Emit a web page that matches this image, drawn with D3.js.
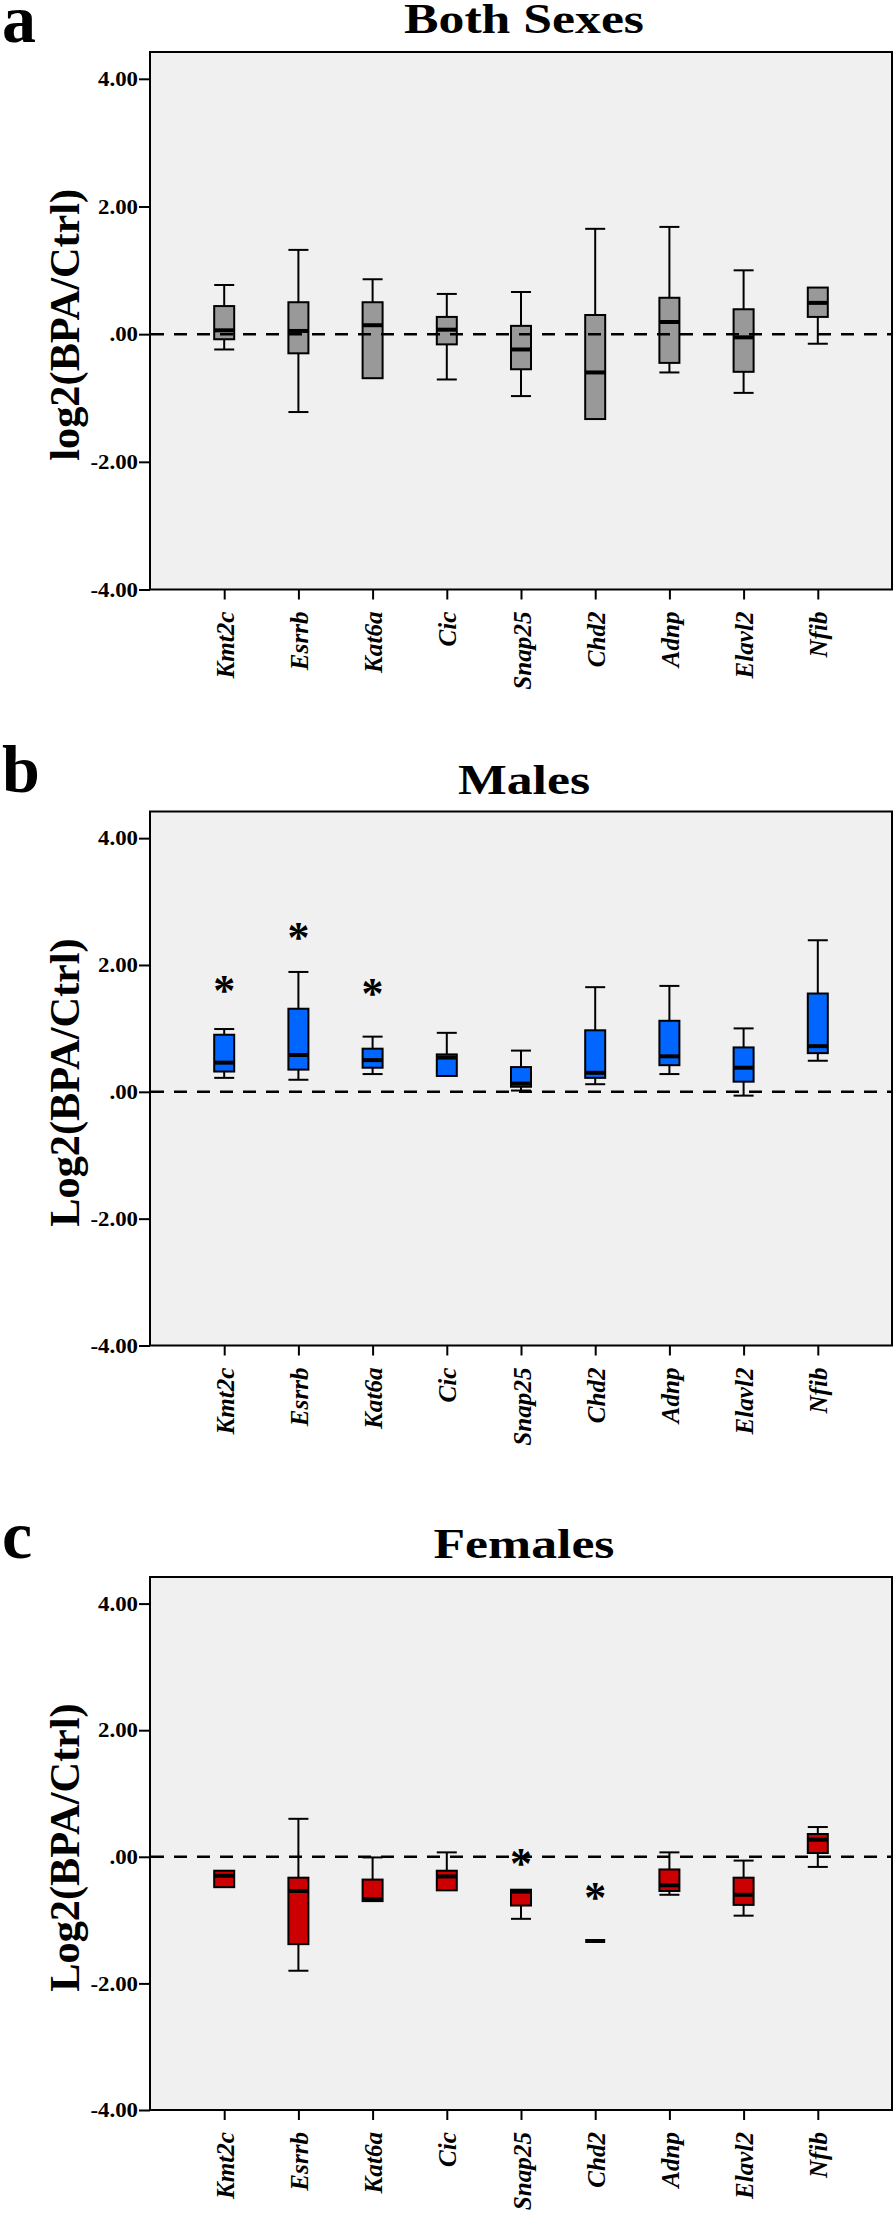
<!DOCTYPE html>
<html><head><meta charset="utf-8">
<script src="https://cdn.jsdelivr.net/npm/d3@7"></script>
<style>body{margin:0;background:#fff}</style>
</head><body><svg id="c" width="896" height="2220"></svg>
<script>
const genes = ["Kmt2c","Esrrb","Kat6a","Cic","Snap25","Chd2","Adnp","Elavl2","Nfib"];
const tickValues = [4, 2, 0, -2, -4];
const tickLabels = ["4.00", "2.00", ".00", "-2.00", "-4.00"];

// Both sexes
const bothMax = [0.77, 1.32, 0.86, 0.63, 0.66, 1.65, 1.68, 1.00, 0.73];
const bothQ3  = [0.44, 0.50, 0.50, 0.27, 0.13, 0.30, 0.57, 0.39, 0.73];
const bothMed = [0.06, 0.05, 0.14, 0.07, -0.24, -0.60, 0.19, -0.05, 0.49];
const bothQ1  = [-0.08, -0.30, -0.69, -0.16, -0.55, -1.33, -0.45, -0.59, 0.27];
const bothMin = [-0.24, -1.22, -0.69, -0.71, -0.97, -1.33, -0.60, -0.92, -0.15];

// Males
const maleMax = [0.99, 1.89, 0.87, 0.93, 0.65, 1.65, 1.67, 1.00, 2.39];
const maleQ3  = [0.90, 1.31, 0.68, 0.59, 0.39, 0.97, 1.12, 0.70, 1.55];
const maleMed = [0.46, 0.58, 0.50, 0.54, 0.13, 0.30, 0.56, 0.38, 0.72];
const maleQ1  = [0.32, 0.35, 0.38, 0.25, 0.08, 0.22, 0.42, 0.16, 0.61];
const maleMin = [0.22, 0.19, 0.28, 0.25, 0.02, 0.12, 0.28, -0.06, 0.49];
const maleStarGenes = ["Kmt2c", "Esrrb", "Kat6a"];
const maleStarValues = [1.69, 2.53, 1.64];

// Females
const femaleMax = [-0.22, 0.60, -0.01, 0.07, -0.52, -1.33, 0.07, -0.06, 0.47];
const femaleQ3  = [-0.22, -0.33, -0.36, -0.22, -0.52, -1.33, -0.20, -0.33, 0.36];
const femaleMed = [-0.30, -0.54, -0.67, -0.31, -0.55, -1.33, -0.45, -0.60, 0.27];
const femaleQ1  = [-0.48, -1.38, -0.70, -0.53, -0.77, -1.33, -0.54, -0.76, 0.06];
const femaleMin = [-0.48, -1.80, -0.70, -0.53, -0.98, -1.33, -0.60, -0.93, -0.16];
const femaleStarGenes = ["Snap25", "Chd2"];
const femaleStarValues = [-0.02, -0.55];

const panelTitles = ["Both Sexes", "Males", "Females"];
const panelLetters = ["a", "b", "c"];
const yTitles = ["log2(BPA/Ctrl)", "Log2(BPA/Ctrl)", "Log2(BPA/Ctrl)"];

const FONT = "'Liberation Serif','Times New Roman',Times,serif";
const svg = d3.select("#c");

// measure helper so text sizes match the reference regardless of font metrics
function measure(str, size, style) {
  const t = svg.append("text").attr("font-family", FONT).attr("font-weight", "bold")
    .attr("font-style", style || "normal").attr("font-size", size).text(str);
  const w = t.node().getComputedTextLength();
  t.remove();
  return w;
}
const xLabelSize = 24 * 67 / measure("Kmt2c", 24, "italic");
const tickSize = 20;
const tickScale = 40 / measure("4.00", tickSize);
const titleSize = 42;
const titleScale = 240 / measure("Both Sexes", titleSize);
const yTitleSize = 40 * 272 / measure("log2(BPA/Ctrl)", 40);

const panels = [
  {max: bothMax, q3: bothQ3, med: bothMed, q1: bothQ1, min: bothMin, starG: [], starV: [],
   color: "#999999", top: 52, bottom: 589.5, titleY: 33, letterY: 42},
  {max: maleMax, q3: maleQ3, med: maleMed, q1: maleQ1, min: maleMin, starG: maleStarGenes, starV: maleStarValues,
   color: "#0066ff", top: 811.5, bottom: 1345.5, titleY: 794, letterY: 792},
  {max: femaleMax, q3: femaleQ3, med: femaleMed, q1: femaleQ1, min: femaleMin, starG: femaleStarGenes, starV: femaleStarValues,
   color: "#cc0000", top: 1577, bottom: 2110, titleY: 1558, letterY: 1558}
];

const left = 150, right = 892;
const x = d3.scalePoint().domain(genes).range([left, right]).padding(1);
const boxW = 20;

panels.forEach((p, pi) => {
  const g = svg.append("g");
  const y = d3.scaleLinear().domain([-4, 4.42]).range([p.bottom, p.top]);

  g.append("rect").attr("x", left).attr("y", p.top).attr("width", right - left).attr("height", p.bottom - p.top)
    .attr("fill", "#f0f0f0").attr("stroke", "#000").attr("stroke-width", 2);

  // y axis
  const ya = g.append("g").attr("transform", `translate(${left},0)`)
    .call(d3.axisLeft(y).tickValues(tickValues).tickSize(11).tickFormat((d, i) => tickLabels[i]));
  ya.select(".domain").remove();
  ya.selectAll(".tick line").attr("stroke", "#000").attr("stroke-width", 2);
  ya.selectAll(".tick text").attr("x", -12 / tickScale).attr("dy", "0.34em")
    .attr("transform", `scale(${tickScale},1)`)
    .attr("font-family", FONT).attr("font-weight", "bold").attr("font-size", tickSize).attr("fill", "#000");

  // x axis
  const xa = g.append("g").attr("transform", `translate(0,${p.bottom})`)
    .call(d3.axisBottom(x).tickSize(10));
  xa.select(".domain").remove();
  xa.selectAll(".tick line").attr("stroke", "#000").attr("stroke-width", 2);
  xa.selectAll(".tick text").attr("transform", "rotate(-90)").attr("x", -22).attr("y", 0).attr("dy", "0.36em")
    .attr("text-anchor", "end").attr("font-family", FONT).attr("font-weight", "bold")
    .attr("font-style", "italic").attr("font-size", xLabelSize).attr("fill", "#000");

  // boxes
  genes.forEach((gn, i) => {
    const cx = x(gn);
    const bg = g.append("g");
    if (p.max[i] > p.q3[i]) {
      bg.append("line").attr("x1", cx).attr("x2", cx).attr("y1", y(p.q3[i])).attr("y2", y(p.max[i]))
        .attr("stroke", "#000").attr("stroke-width", 2);
      bg.append("line").attr("x1", cx - boxW / 2).attr("x2", cx + boxW / 2).attr("y1", y(p.max[i])).attr("y2", y(p.max[i]))
        .attr("stroke", "#000").attr("stroke-width", 2);
    }
    if (p.min[i] < p.q1[i]) {
      bg.append("line").attr("x1", cx).attr("x2", cx).attr("y1", y(p.q1[i])).attr("y2", y(p.min[i]))
        .attr("stroke", "#000").attr("stroke-width", 2);
      bg.append("line").attr("x1", cx - boxW / 2).attr("x2", cx + boxW / 2).attr("y1", y(p.min[i])).attr("y2", y(p.min[i]))
        .attr("stroke", "#000").attr("stroke-width", 2);
    }
    const h = y(p.q1[i]) - y(p.q3[i]);
    if (h > 0.5) {
      bg.append("rect").attr("x", cx - boxW / 2).attr("y", y(p.q3[i])).attr("width", boxW).attr("height", h)
        .attr("fill", p.color).attr("stroke", "#000").attr("stroke-width", 2);
    }
    bg.append("line").attr("x1", cx - boxW / 2).attr("x2", cx + boxW / 2).attr("y1", y(p.med[i])).attr("y2", y(p.med[i]))
      .attr("stroke", "#000").attr("stroke-width", 4);
  });

  // zero reference line
  g.append("line").attr("x1", left + 1).attr("x2", right - 1).attr("y1", y(0)).attr("y2", y(0))
    .attr("stroke", "#000").attr("stroke-width", 2.5).attr("stroke-dasharray", "13,10");

  // stars
  p.starG.forEach((gn, i) => {
    g.append("text").attr("x", x(gn)).attr("y", y(p.starV[i])).attr("dy", "0.46em")
      .attr("text-anchor", "middle").attr("font-family", FONT).attr("font-weight", "bold")
      .attr("font-size", 44).attr("fill", "#000").text("*");
  });

  // title
  g.append("text").attr("transform", `translate(${(left + right) / 2 + 3},${p.titleY}) scale(${titleScale},1)`)
    .attr("text-anchor", "middle").attr("font-family", FONT).attr("font-weight", "bold")
    .attr("font-size", titleSize).attr("fill", "#000").text(panelTitles[pi]);

  // panel letter
  g.append("text").attr("x", 2).attr("y", p.letterY).attr("font-family", FONT).attr("font-weight", "bold")
    .attr("font-size", 68).attr("fill", "#000").text(panelLetters[pi]);

  // y title
  g.append("text").attr("transform", `translate(64,${(p.top + p.bottom) / 2 + 4}) rotate(-90)`)
    .attr("dy", "0.35em").attr("text-anchor", "middle").attr("font-family", FONT).attr("font-weight", "bold")
    .attr("font-size", yTitleSize).attr("fill", "#000").text(yTitles[pi]);
});
</script></body></html>
